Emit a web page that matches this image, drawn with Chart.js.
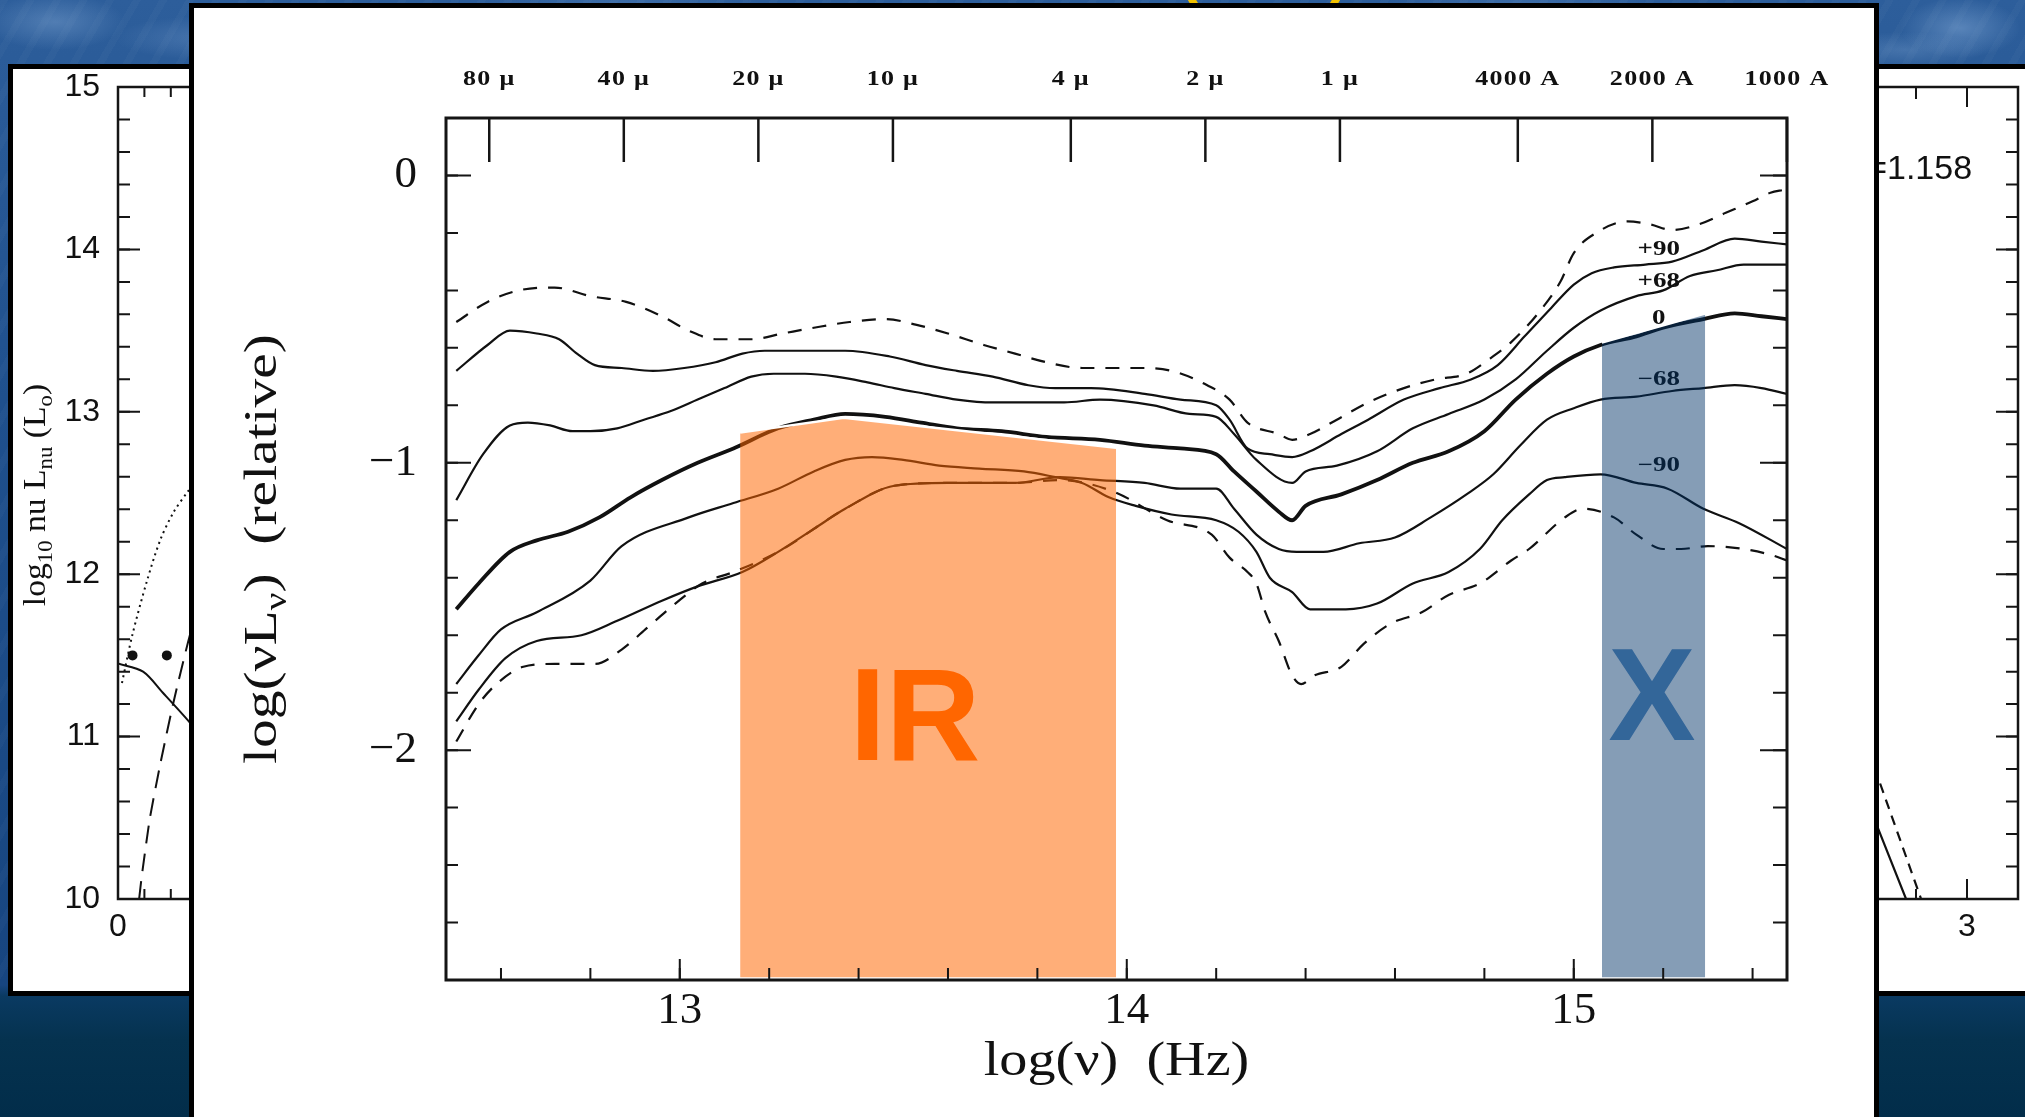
<!DOCTYPE html>
<html lang="fr">
<head>
<meta charset="utf-8">
<title>SED – IR et X</title>
<script src="https://cdn.jsdelivr.net/npm/chart.js@4.4.1/dist/chart.umd.min.js"></script>
<style>
  html, body { margin: 0; padding: 0; }
  body {
    position: relative;
    width: 2025px;
    height: 1117px;
    overflow: hidden;
    background:
      linear-gradient(180deg, rgba(0,0,0,0) 0, rgba(0,0,0,0) 985px, #0a3a62 996px, #05324f 1040px, #022d4a 1117px),
      radial-gradient(70px 28px at 55px 22px, rgba(150,185,225,0.35), rgba(0,0,0,0)),
      radial-gradient(90px 22px at 205px 38px, rgba(140,175,220,0.28), rgba(0,0,0,0)),
      radial-gradient(60px 30px at 1960px 28px, rgba(160,195,235,0.38), rgba(0,0,0,0)),
      radial-gradient(80px 18px at 1905px 50px, rgba(150,185,225,0.25), rgba(0,0,0,0)),
      radial-gradient(140px 16px at 1520px 6px, rgba(140,180,225,0.22), rgba(0,0,0,0)),
      radial-gradient(140px 16px at 620px 4px, rgba(140,180,225,0.2), rgba(0,0,0,0)),
      repeating-linear-gradient(120deg, rgba(255,255,255,0.025) 0 7px, rgba(0,0,0,0) 7px 23px),
      linear-gradient(180deg, #2d5e9b 0, #1f508d 400px, #174580 985px);
  }
  .panel { position: absolute; box-sizing: border-box; background: #fff; border: 5px solid #000; }
  .panel canvas { position: absolute; left: 0; top: 0; }
  #leftPanel { left: 8px; top: 64px; width: 600px; height: 932px; z-index: 1; }
  #rightPanel { left: 1400px; top: 64px; width: 700px; height: 932px; z-index: 1; }
  #mainPanel { left: 189px; top: 3px; width: 1690px; height: 1130px; z-index: 3; }
  .paren { position: absolute; top: -59px; font: bold 60px "Liberation Sans", sans-serif; line-height: 60px; color: #f2c200; z-index: 0; }
</style>
</head>
<body>
<div class="paren" style="left:1178px">(</div>
<div class="paren" style="left:1330px">)</div>

<div class="panel" id="leftPanel"><canvas id="leftFig" width="590" height="922"></canvas></div>
<div class="panel" id="rightPanel"><canvas id="rightFig" width="690" height="922"></canvas></div>
<div class="panel" id="mainPanel"><canvas id="sed" width="1680" height="1109"></canvas></div>

<script>
// SED curves, x = log(nu) [Hz], y = log(nu L_nu) relative
const dashTopX = [12.50,12.57,12.64,12.72,12.80,12.88,12.96,13.02,13.08,13.16,13.23,13.30,13.38,13.46,13.53,13.60,13.68,13.75,13.82,13.90,13.96,14.02,14.10,14.18,14.23,14.27,14.34,14.37,14.41,14.47,14.54,14.62,14.69,14.76,14.81,14.86,14.92,14.97,15.00,15.05,15.12,15.17,15.22,15.28,15.34,15.40,15.44,15.47];
const dashTopY = [-0.51,-0.44,-0.40,-0.39,-0.42,-0.44,-0.49,-0.54,-0.57,-0.57,-0.55,-0.53,-0.51,-0.50,-0.52,-0.55,-0.59,-0.62,-0.65,-0.67,-0.67,-0.67,-0.68,-0.73,-0.78,-0.86,-0.90,-0.92,-0.90,-0.85,-0.79,-0.74,-0.71,-0.69,-0.64,-0.58,-0.48,-0.37,-0.27,-0.20,-0.16,-0.17,-0.19,-0.17,-0.13,-0.09,-0.06,-0.05];

const plus90X = [12.50,12.57,12.62,12.68,12.73,12.77,12.81,12.87,12.94,13.01,13.08,13.14,13.19,13.27,13.37,13.47,13.55,13.62,13.70,13.78,13.84,13.92,14.04,14.12,14.20,14.23,14.27,14.32,14.37,14.41,14.48,14.54,14.62,14.70,14.77,14.83,14.89,14.95,15.00,15.04,15.09,15.16,15.22,15.29,15.36,15.42,15.477];
const plus90Y = [-0.68,-0.59,-0.54,-0.55,-0.57,-0.62,-0.66,-0.67,-0.68,-0.67,-0.65,-0.62,-0.61,-0.61,-0.61,-0.63,-0.66,-0.68,-0.70,-0.73,-0.74,-0.74,-0.76,-0.78,-0.80,-0.85,-0.95,-0.97,-0.98,-0.96,-0.90,-0.85,-0.78,-0.74,-0.71,-0.66,-0.56,-0.46,-0.38,-0.34,-0.32,-0.31,-0.30,-0.26,-0.22,-0.23,-0.24];

const plus68X = [12.50,12.56,12.62,12.66,12.71,12.76,12.80,12.86,12.92,12.98,13.04,13.10,13.16,13.21,13.28,13.35,13.42,13.48,13.55,13.62,13.70,13.78,13.86,13.94,14.06,14.14,14.20,14.24,14.29,14.37,14.40,14.47,14.56,14.64,14.72,14.80,14.87,14.94,15.00,15.06,15.14,15.20,15.26,15.32,15.38,15.477];
const plus68Y = [-1.13,-0.97,-0.87,-0.86,-0.87,-0.89,-0.89,-0.88,-0.85,-0.82,-0.78,-0.74,-0.70,-0.69,-0.69,-0.70,-0.72,-0.74,-0.76,-0.78,-0.79,-0.79,-0.79,-0.78,-0.80,-0.83,-0.84,-0.90,-0.99,-1.07,-1.03,-1.01,-0.96,-0.88,-0.83,-0.78,-0.71,-0.61,-0.53,-0.47,-0.42,-0.40,-0.35,-0.33,-0.31,-0.31];

const zeroX = [12.50,12.55,12.62,12.68,12.75,12.82,12.89,12.96,13.04,13.12,13.22,13.30,13.37,13.46,13.54,13.62,13.72,13.82,13.94,14.04,14.12,14.20,14.24,14.29,14.34,14.37,14.40,14.48,14.56,14.64,14.72,14.80,14.87,14.94,15.00,15.06,15.14,15.20,15.29,15.36,15.42,15.477];
const zeroY = [-1.51,-1.42,-1.31,-1.27,-1.24,-1.19,-1.12,-1.06,-1.00,-0.95,-0.88,-0.85,-0.83,-0.84,-0.86,-0.88,-0.89,-0.91,-0.92,-0.94,-0.95,-0.97,-1.03,-1.10,-1.17,-1.20,-1.15,-1.11,-1.06,-1.00,-0.96,-0.89,-0.78,-0.69,-0.63,-0.59,-0.56,-0.53,-0.50,-0.48,-0.49,-0.50];

const minus68X = [12.50,12.55,12.61,12.68,12.78,12.86,12.96,13.04,13.14,13.22,13.30,13.37,13.48,13.60,13.75,13.85,13.94,14.04,14.12,14.20,14.24,14.29,14.34,14.38,14.44,14.52,14.60,14.68,14.76,14.82,14.88,14.94,15.00,15.06,15.14,15.22,15.29,15.36,15.42,15.477];
const minus68Y = [-1.90,-1.79,-1.68,-1.62,-1.60,-1.55,-1.48,-1.43,-1.38,-1.31,-1.23,-1.16,-1.08,-1.07,-1.07,-1.05,-1.06,-1.07,-1.09,-1.09,-1.16,-1.25,-1.30,-1.31,-1.31,-1.28,-1.26,-1.19,-1.11,-1.04,-0.94,-0.85,-0.81,-0.78,-0.77,-0.75,-0.74,-0.73,-0.74,-0.76];

const minus90X = [12.50,12.55,12.60,12.68,12.80,12.87,13.02,13.12,13.22,13.30,13.37,13.43,13.50,13.58,13.67,13.77,13.84,13.90,13.96,14.02,14.10,14.20,14.25,14.29,14.32,14.37,14.41,14.49,14.56,14.64,14.72,14.79,14.84,14.90,14.94,14.98,15.06,15.14,15.21,15.29,15.37,15.477];
const minus90Y = [-1.77,-1.67,-1.58,-1.52,-1.41,-1.29,-1.19,-1.14,-1.09,-1.03,-0.99,-0.98,-0.99,-1.01,-1.02,-1.03,-1.05,-1.07,-1.12,-1.15,-1.18,-1.20,-1.24,-1.31,-1.40,-1.45,-1.51,-1.51,-1.49,-1.42,-1.38,-1.30,-1.20,-1.11,-1.06,-1.05,-1.04,-1.07,-1.09,-1.16,-1.21,-1.30];

const dashLowX = [12.50,12.55,12.59,12.65,12.72,12.81,12.87,12.93,12.99,13.05,13.12,13.22,13.37,13.48,13.60,13.75,13.85,13.97,14.09,14.19,14.23,14.27,14.29,14.31,14.34,14.37,14.39,14.42,14.48,14.53,14.59,14.66,14.72,14.79,14.86,14.90,14.98,15.02,15.09,15.14,15.20,15.24,15.30,15.38,15.44,15.477];
const dashLowY = [-1.97,-1.84,-1.77,-1.71,-1.70,-1.70,-1.65,-1.57,-1.49,-1.42,-1.38,-1.31,-1.16,-1.08,-1.07,-1.07,-1.06,-1.10,-1.20,-1.25,-1.33,-1.38,-1.42,-1.52,-1.62,-1.74,-1.77,-1.74,-1.71,-1.63,-1.56,-1.52,-1.46,-1.42,-1.34,-1.30,-1.19,-1.16,-1.19,-1.25,-1.30,-1.30,-1.29,-1.30,-1.32,-1.34];

// shaded IR and X windows
const bandFloor = -2.79;
const irBandX = [13.135, 13.367, 13.976];
const irBandTop = [-0.895, -0.843, -0.948];
const xBandX = [15.063, 15.294];
const xBandTop = [-0.582, -0.481];

// inclination tags next to the curves
const curveTags = ['+90', '+68', '0', '−68', '−90'];
const curveTagY = [-0.26, -0.37, -0.50, -0.71, -1.01];
const curveTagX = 15.19;

// axes
const nuTicks = [13, 14, 15];
const relTicks = [0, -1, -2];
const waveMicrons = [80, 40, 20, 10, 4, 2, 1, 0.4, 0.2, 0.1];
const waveLabels = ['80 μ', '40 μ', '20 μ', '10 μ', '4 μ', '2 μ', '1 μ', '4000 A', '2000 A', '1000 A'];

// side figures
const lumTicks = [10, 11, 12, 13, 14, 15];
const leftDotX = [0.03, 0.11, 0.22, 0.32, 0.42, 0.53, 0.62];
const leftDotY = [11.33, 11.63, 11.96, 12.21, 12.38, 12.51, 12.60];
const leftSolidX = [0, 0.19, 0.34, 0.53, 0.65];
const leftSolidY = [11.45, 11.40, 11.27, 11.10, 10.98];
const leftDashX = [0.16, 0.18, 0.24, 0.32, 0.42, 0.53, 0.62];
const leftDashY = [10.0, 10.14, 10.49, 10.83, 11.21, 11.58, 11.85];
const leftMarkX = [0.11, 0.37];
const leftMarkY = [11.5, 11.5];
const rightTicksX = [2, 3];
const rightSolidX = [2.5, 2.655, 2.761, 2.8];
const rightSolidY = [11.05, 10.42, 10.0, 9.85];
const rightDashX = [2.5, 2.655, 2.82, 2.86];
const rightDashY = [11.4, 10.73, 10.0, 9.8];

const pts = (xs, ys) => xs.map((x, i) => ({ x: x, y: ys[i] }));

function steps(from, to, step) {
  const out = [];
  for (let v = from; v <= to + 1e-9; v += step) out.push(Math.round(v * 1000) / 1000);
  return out;
}

// keep the plot area where the layout padding puts it
function noOverflow(s) {
  s.paddingTop = 0;
  s.paddingBottom = 0;
  s.paddingLeft = 0;
  s.paddingRight = 0;
}

Chart.defaults.color = '#111';

// frame around the plot area plus tick marks pointing inward
function frameTicks(marks, frameWidth) {
  return {
    id: 'frameTicks',
    afterDatasetsDraw(chart) {
      const { ctx, chartArea: a } = chart;
      ctx.save();
      ctx.strokeStyle = '#151515';
      marks.forEach(m => {
        const scale = chart.scales[m.axis];
        ctx.lineWidth = m.width || 2;
        ctx.beginPath();
        m.values.forEach(v => {
          const p = scale.getPixelForValue(v);
          if (m.side === 'bottom') { ctx.moveTo(p, a.bottom); ctx.lineTo(p, a.bottom - m.len); }
          else if (m.side === 'top') { ctx.moveTo(p, a.top); ctx.lineTo(p, a.top + m.len); }
          else if (m.side === 'left') { ctx.moveTo(a.left, p); ctx.lineTo(a.left + m.len, p); }
          else { ctx.moveTo(a.right, p); ctx.lineTo(a.right - m.len, p); }
        });
        ctx.stroke();
      });
      ctx.lineWidth = frameWidth;
      ctx.strokeRect(a.left, a.top, a.right - a.left, a.bottom - a.top);
      ctx.restore();
    }
  };
}

// axis title with subscripts, optionally rotated and stretched along the text
function richTitle(ctx, parts, cx, cy, size, family, rotated, stretch) {
  ctx.save();
  ctx.translate(cx, cy);
  if (rotated) ctx.rotate(-Math.PI / 2);
  ctx.scale(stretch, 1);
  ctx.textAlign = 'left';
  ctx.textBaseline = 'alphabetic';
  ctx.fillStyle = '#111';
  const fontOf = p => (p.sub ? size * 0.68 : size) + 'px ' + family;
  let total = 0;
  parts.forEach(p => { ctx.font = fontOf(p); total += ctx.measureText(p.t).width; });
  let x = -total / 2;
  parts.forEach(p => {
    ctx.font = fontOf(p);
    ctx.fillText(p.t, x, size * 0.3 + (p.sub ? size * 0.22 : 0));
    x += ctx.measureText(p.t).width;
  });
  ctx.restore();
}

function curve(xs, ys, width, dash) {
  return {
    data: pts(xs, ys),
    borderColor: '#111',
    borderWidth: width,
    borderDash: dash || [],
    pointRadius: 0,
    fill: false,
    cubicInterpolationMode: 'monotone',
    order: 2
  };
}

// ---------- main figure ----------
const sedDecor = {
  id: 'sedDecor',
  beforeDatasetsDraw(chart) {
    const { ctx, scales: { x, y } } = chart;
    ctx.save();
    ctx.font = 'bold 20px "Liberation Serif"';
    ctx.fillStyle = '#111';
    ctx.textAlign = 'center';
    ctx.textBaseline = 'middle';
    curveTags.forEach((t, i) => {
      ctx.save();
      ctx.translate(x.getPixelForValue(curveTagX), y.getPixelForValue(curveTagY[i]));
      ctx.scale(1.35, 1);
      ctx.fillText(t, 0, 0);
      ctx.restore();
    });
    ctx.restore();
  },
  afterDatasetsDraw(chart) {
    const { ctx, chartArea: a, scales: { x, y } } = chart;
    ctx.save();
    ctx.font = 'bold 131px "Liberation Sans"';
    ctx.textAlign = 'center';
    ctx.textBaseline = 'middle';
    ctx.fillStyle = '#ff6600';
    ctx.fillText('IR', x.getPixelForValue(13.526), y.getPixelForValue(-1.91));
    ctx.fillStyle = '#336699';
    ctx.fillText('X', x.getPixelForValue(15.175), y.getPixelForValue(-1.84));

    // wavelength scale along the top edge
    ctx.strokeStyle = '#151515';
    ctx.lineWidth = 2.5;
    ctx.font = 'bold 20px "Liberation Serif"';
    ctx.letterSpacing = '1px';
    ctx.fillStyle = '#111';
    waveMicrons.forEach((lam, i) => {
      const px = x.getPixelForValue(Math.log10(2.998e14 / lam));
      ctx.beginPath();
      ctx.moveTo(px, a.top);
      ctx.lineTo(px, a.top + 44);
      ctx.stroke();
      ctx.save();
      ctx.translate(px, a.top - 38);
      ctx.scale(1.3, 1);
      ctx.fillText(waveLabels[i], 0, 0);
      ctx.restore();
    });
    ctx.restore();
  },
  afterDraw(chart) {
    const a = chart.chartArea;
    richTitle(chart.ctx,
      [{ t: 'log(νL' }, { t: 'ν', sub: true }, { t: ')  (relative)' }],
      68, (a.top + a.bottom) / 2, 46, '"Liberation Serif"', true, 1.25);
    richTitle(chart.ctx,
      [{ t: 'log(ν)  (Hz)' }],
      (a.left + a.right) / 2, 1053, 48, '"Liberation Serif"', false, 1.17);
  }
};

new Chart(document.getElementById('sed'), {
  type: 'line',
  data: {
    datasets: [
      {
        data: pts(irBandX, irBandTop),
        borderColor: '#ffffff',
        borderWidth: 2.5,
        backgroundColor: 'rgba(255, 102, 0, 0.53)',
        fill: { value: bandFloor },
        pointRadius: 0,
        tension: 0,
        order: 1
      },
      {
        data: pts(xBandX, xBandTop),
        borderColor: '#ffffff',
        borderWidth: 2,
        backgroundColor: 'rgba(0, 51, 102, 0.48)',
        fill: { value: bandFloor },
        pointRadius: 0,
        tension: 0,
        order: 1
      },
      curve(dashTopX, dashTopY, 2.2, [14, 11]),
      curve(plus90X, plus90Y, 2.2),
      curve(plus68X, plus68Y, 2.2),
      curve(zeroX, zeroY, 3.8),
      curve(minus68X, minus68Y, 2.2),
      curve(minus90X, minus90Y, 2.2),
      curve(dashLowX, dashLowY, 2.2, [14, 11])
    ]
  },
  options: {
    responsive: false,
    animation: false,
    layout: { padding: { left: 0, right: 87, top: 110, bottom: 0 } },
    plugins: { legend: { display: false }, tooltip: { enabled: false } },
    scales: {
      x: {
        type: 'linear',
        min: 12.477,
        max: 15.477,
        afterBuildTicks: s => { s.ticks = nuTicks.map(v => ({ value: v })); },
        afterFit: s => { s.height = 137; noOverflow(s); },
        grid: { display: false, drawTicks: false },
        border: { display: false },
        ticks: {
          padding: 4,
          autoSkip: false,
          maxRotation: 0,
          font: { family: 'Liberation Serif', size: 45 },
          callback: v => String(v)
        }
      },
      y: {
        type: 'linear',
        min: -2.8,
        max: 0.2,
        afterBuildTicks: s => { s.ticks = relTicks.map(v => ({ value: v })); },
        afterFit: s => { s.width = 252; noOverflow(s); },
        grid: { display: false, drawTicks: false },
        border: { display: false },
        ticks: {
          padding: 29,
          autoSkip: false,
          font: { family: 'Liberation Serif', size: 45 },
          callback: v => (v === 0 ? '0' : '−' + Math.abs(v))
        }
      }
    }
  },
  plugins: [
    frameTicks([
      { axis: 'x', side: 'bottom', values: steps(12.6, 15.4, 0.2), len: 12 },
      { axis: 'x', side: 'bottom', values: nuTicks, len: 21 },
      { axis: 'y', side: 'left', values: steps(-2.6, 0, 0.2), len: 12 },
      { axis: 'y', side: 'left', values: relTicks, len: 25 },
      { axis: 'y', side: 'right', values: steps(-2.6, 0, 0.2), len: 14 },
      { axis: 'y', side: 'right', values: relTicks, len: 27 }
    ], 3),
    sedDecor
  ]
});

// ---------- left background figure ----------
const leftTitle = {
  id: 'leftTitle',
  afterDraw(chart) {
    richTitle(chart.ctx,
      [{ t: 'log' }, { t: '10', sub: true }, { t: ' nu L' }, { t: 'nu', sub: true }, { t: ' (L' }, { t: 'o', sub: true }, { t: ')' }],
      22, 426, 32, '"Liberation Serif"', true, 1.05);
  }
};

new Chart(document.getElementById('leftFig'), {
  type: 'line',
  data: {
    datasets: [
      { data: pts(leftDotX, leftDotY), borderColor: '#111', borderWidth: 2, borderDash: [2, 4], pointRadius: 0, tension: 0.3 },
      { data: pts(leftSolidX, leftSolidY), borderColor: '#111', borderWidth: 2, pointRadius: 0, tension: 0.3 },
      { data: pts(leftDashX, leftDashY), borderColor: '#111', borderWidth: 2, borderDash: [18, 10], pointRadius: 0, tension: 0.2 },
      { data: pts(leftMarkX, leftMarkY), showLine: false, pointRadius: 5, pointBackgroundColor: '#111', pointBorderWidth: 0 }
    ]
  },
  options: {
    responsive: false,
    animation: false,
    layout: { padding: { left: 0, right: 89, top: 18, bottom: 0 } },
    plugins: { legend: { display: false }, tooltip: { enabled: false } },
    scales: {
      x: {
        type: 'linear', min: 0, max: 3,
        afterBuildTicks: s => { s.ticks = [0, 1, 2, 3].map(v => ({ value: v })); },
        afterFit: s => { s.height = 92; noOverflow(s); },
        grid: { display: false, drawTicks: false },
        border: { display: false },
        ticks: { padding: 9, autoSkip: false, maxRotation: 0, font: { family: 'Liberation Sans', size: 32 } }
      },
      y: {
        type: 'linear', min: 10, max: 15,
        afterBuildTicks: s => { s.ticks = lumTicks.map(v => ({ value: v })); },
        afterFit: s => { s.width = 105; noOverflow(s); },
        grid: { display: false, drawTicks: false },
        border: { display: false },
        ticks: { padding: 18, autoSkip: false, font: { family: 'Liberation Sans', size: 32 } }
      }
    }
  },
  plugins: [
    frameTicks([
      { axis: 'y', side: 'left', values: steps(10, 15, 0.2), len: 12 },
      { axis: 'y', side: 'left', values: lumTicks, len: 22 },
      { axis: 'x', side: 'bottom', values: steps(0.2, 2.8, 0.2), len: 10 },
      { axis: 'x', side: 'top', values: steps(0.2, 2.8, 0.2), len: 10 },
      { axis: 'x', side: 'bottom', values: [1, 2], len: 18 }
    ], 2.5),
    leftTitle
  ]
});

// ---------- right background figure ----------
const rightNote = {
  id: 'rightNote',
  afterDatasetsDraw(chart) {
    const { ctx, scales: { x, y } } = chart;
    ctx.save();
    ctx.font = '34px "Liberation Sans"';
    ctx.fillStyle = '#111';
    ctx.textAlign = 'right';
    ctx.textBaseline = 'middle';
    ctx.fillText('z=1.158', x.getPixelForValue(3.02), y.getPixelForValue(14.49));
    ctx.restore();
  }
};

new Chart(document.getElementById('rightFig'), {
  type: 'line',
  data: {
    datasets: [
      { data: pts(rightSolidX, rightSolidY), borderColor: '#111', borderWidth: 2.2, pointRadius: 0 },
      { data: pts(rightDashX, rightDashY), borderColor: '#111', borderWidth: 2.2, borderDash: [10, 7], pointRadius: 0 }
    ]
  },
  options: {
    responsive: false,
    animation: false,
    layout: { padding: { left: 103, right: 77, top: 18, bottom: 0 } },
    plugins: { legend: { display: false }, tooltip: { enabled: false } },
    scales: {
      x: {
        type: 'linear', min: 1.2, max: 3.2,
        afterBuildTicks: s => { s.ticks = rightTicksX.map(v => ({ value: v })); },
        afterFit: s => { s.height = 92; noOverflow(s); },
        grid: { display: false, drawTicks: false },
        border: { display: false },
        ticks: { padding: 9, autoSkip: false, maxRotation: 0, font: { family: 'Liberation Sans', size: 32 } }
      },
      y: { type: 'linear', min: 10, max: 15, display: false }
    }
  },
  plugins: [
    frameTicks([
      { axis: 'y', side: 'right', values: steps(10, 15, 0.2), len: 12 },
      { axis: 'y', side: 'right', values: lumTicks, len: 22 },
      { axis: 'x', side: 'top', values: steps(1.4, 3.0, 0.2), len: 12 },
      { axis: 'x', side: 'top', values: rightTicksX, len: 20 },
      { axis: 'x', side: 'bottom', values: steps(1.4, 3.0, 0.2), len: 10 },
      { axis: 'x', side: 'bottom', values: rightTicksX, len: 20 }
    ], 2.5),
    rightNote
  ]
});
</script>
</body>
</html>
